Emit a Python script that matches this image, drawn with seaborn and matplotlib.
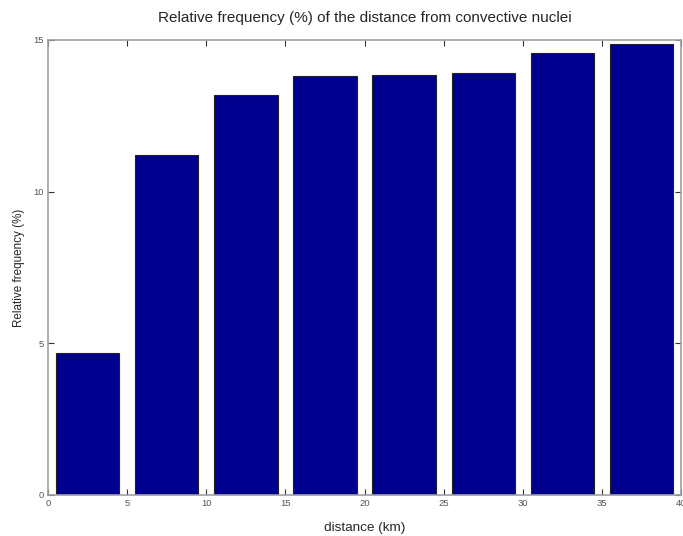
import numpy as np
import pandas as pd
import matplotlib
matplotlib.use('Agg')
import matplotlib.pyplot as plt
import seaborn as sns

# distance bins (km, bin centres) and relative frequency (%)
distance = [2.5, 7.5, 12.5, 17.5, 22.5, 27.5, 32.5, 37.5]
rel_freq = [4.67, 11.22, 13.18, 13.82, 13.86, 13.90, 14.58, 14.88]

x_ticks = [0, 5, 10, 15, 20, 25, 30, 35, 40]
y_ticks = [0, 5, 10, 15]

sns.set_theme(style='white')
plt.rcParams['font.family'] = ['Liberation Sans', 'DejaVu Sans']

df = pd.DataFrame({'distance': distance, 'rel_freq': rel_freq})

fig = plt.figure(figsize=(6.83, 5.36), dpi=100)
ax = fig.add_axes([0.0703, 0.0765, 0.927, 0.849])

sns.barplot(data=df, x='distance', y='rel_freq', native_scale=True,
            width=0.8, color='#00008F', saturation=1, edgecolor='#222222',
            linewidth=0.8, ax=ax)

ax.set_xlim(0, 40)
ax.set_ylim(0, 15)
ax.set_xticks(x_ticks)
ax.set_yticks(y_ticks)
ax.set_xticklabels([str(t) for t in x_ticks])
ax.tick_params(direction='in', length=4, width=0.8, color='#333333',
               labelsize=6.8, labelcolor='#555555', top=True, right=True,
               bottom=True, left=True, pad=3)
for s in ax.spines.values():
    s.set_color('#a0a0a0')
    s.set_linewidth(1.2)
    s.set_visible(True)

ax.set_xlabel('distance (km)', fontsize=9.7, labelpad=10)
ax.set_ylabel('Relative frequency (%)', fontsize=8.4, labelpad=6)
ax.set_title('Relative frequency (%) of the distance from convective nuclei',
             fontsize=11, pad=13)

fig.savefig('out.png', dpi=100)
